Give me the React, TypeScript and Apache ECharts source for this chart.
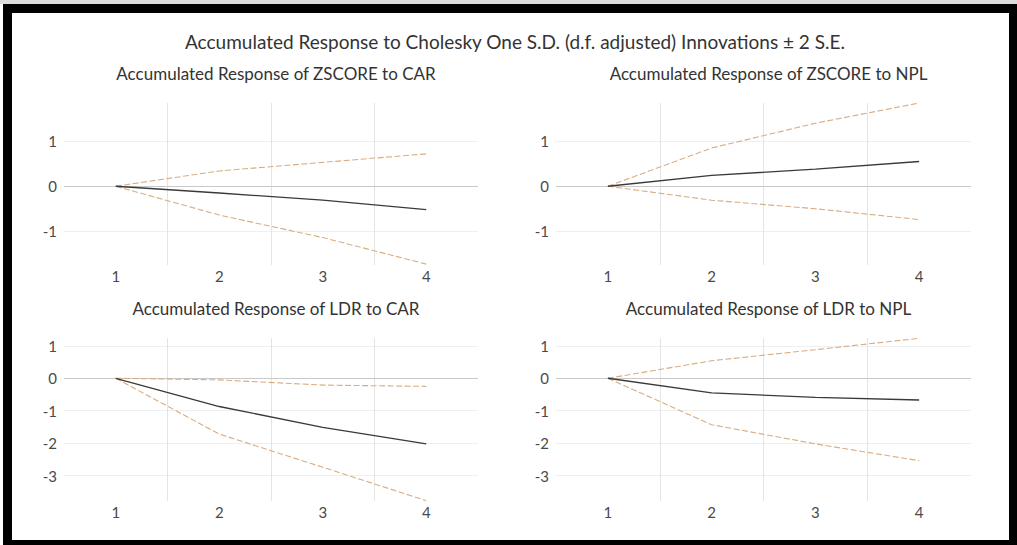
import React, { useEffect, useRef } from "react";
import * as echarts from "echarts";

const categories = ["1", "2", "3", "4"];

const zscoreCarResp = [0, -0.15, -0.31, -0.52];
const zscoreCarUpper = [0, 0.34, 0.53, 0.72];
const zscoreCarLower = [0, -0.64, -1.14, -1.73];

const zscoreNplResp = [0, 0.24, 0.38, 0.55];
const zscoreNplUpper = [0, 0.85, 1.4, 1.85];
const zscoreNplLower = [0, -0.31, -0.5, -0.74];

const ldrCarResp = [0, -0.87, -1.51, -2.02];
const ldrCarUpper = [0, -0.05, -0.21, -0.25];
const ldrCarLower = [0, -1.72, -2.74, -3.77];

const ldrNplResp = [0, -0.45, -0.59, -0.67];
const ldrNplUpper = [0, 0.54, 0.88, 1.23];
const ldrNplLower = [0, -1.43, -2.02, -2.54];

const topRange = [-1.75, 1.85];
const bottomRange = [-3.78, 1.24];

const mainTitle = "Accumulated Response to Cholesky One S.D. (d.f. adjusted) Innovations ± 2 S.E.";
const panelTitles = [
  "Accumulated Response of ZSCORE to CAR",
  "Accumulated Response of ZSCORE to NPL",
  "Accumulated Response of LDR to CAR",
  "Accumulated Response of LDR to NPL",
];

const panels = [
  { resp: zscoreCarResp, upper: zscoreCarUpper, lower: zscoreCarLower, range: topRange },
  { resp: zscoreNplResp, upper: zscoreNplUpper, lower: zscoreNplLower, range: topRange },
  { resp: ldrCarResp, upper: ldrCarUpper, lower: ldrCarLower, range: bottomRange },
  { resp: ldrNplResp, upper: ldrNplUpper, lower: ldrNplLower, range: bottomRange },
];

const FONT = "Lato, 'Open Sans', sans-serif";
const gridBoxes = [
  { left: 64, top: 103, width: 414, height: 162 },
  { left: 556, top: 103, width: 415, height: 162 },
  { left: 64, top: 338, width: 414, height: 163 },
  { left: 556, top: 338, width: 415, height: 163 },
];

export default function App() {
  const ref = useRef<HTMLDivElement>(null);
  useEffect(() => {
    if (!ref.current) return;
    const chart = echarts.init(ref.current, undefined, { renderer: "svg" });
    const grid = gridBoxes.map((g) => ({ ...g, containLabel: false }));
    const xAxis = gridBoxes.map((_, i) => ({
      type: "category",
      gridIndex: i,
      data: categories,
      boundaryGap: true,
      axisLine: { show: false },
      axisTick: { show: false },
      axisLabel: { color: "#4a4a4a", fontSize: 15, fontFamily: FONT, margin: 3 },
      splitLine: {
        show: true,
        showMinLine: false,
        showMaxLine: false,
        lineStyle: { color: "#e4e4e4", width: 1 },
      },
    }));
    const yAxis = panels.map((p, i) => ({
      type: "value",
      gridIndex: i,
      min: p.range[0],
      max: p.range[1],
      minInterval: 1,
      maxInterval: 1,
      axisLine: { show: false },
      axisTick: { show: false },
      axisLabel: {
        color: "#4a4a4a",
        fontSize: 15,
        fontFamily: FONT,
        margin: 7,
        showMinLabel: false,
        showMaxLabel: false,
        formatter: (v: number) => (Math.abs(v - Math.round(v)) < 1e-6 ? String(Math.round(v)) : ""),
      },
      splitLine: {
        show: true,
        showMinLine: false,
        showMaxLine: false,
        lineStyle: { color: "#efefef", width: 1 },
      },
    }));
    const dashStyle = { color: "#d9ad82", width: 1.1, type: [6, 2.5] };
    const series: any[] = [];
    panels.forEach((p, i) => {
      series.push({
        type: "line",
        xAxisIndex: i,
        yAxisIndex: i,
        data: p.upper,
        symbol: "none",
        lineStyle: dashStyle,
        z: 3,
      });
      series.push({
        type: "line",
        xAxisIndex: i,
        yAxisIndex: i,
        data: p.lower,
        symbol: "none",
        lineStyle: dashStyle,
        z: 3,
      });
      series.push({
        type: "line",
        xAxisIndex: i,
        yAxisIndex: i,
        data: p.resp,
        symbol: "none",
        lineStyle: { color: "#3a3a3a", width: 1.3 },
        z: 4,
        markLine: {
          silent: true,
          symbol: "none",
          label: { show: false },
          lineStyle: { color: "#c9c9c9", width: 1, type: "solid" },
          data: [{ yAxis: 0 }],
          z: 1,
        },
      });
    });
    const title = [
      {
        text: mainTitle,
        left: 510,
        top: 27,
        textAlign: "center",
        textStyle: { fontFamily: FONT, fontSize: 19, fontWeight: "normal", color: "#333333" },
      },
      ...panelTitles.map((t, i) => ({
        text: t,
        left: gridBoxes[i].left + gridBoxes[i].width / 2,
        top: i < 2 ? 60 : 295,
        textAlign: "center",
        textStyle: { fontFamily: FONT, fontSize: 17, fontWeight: "normal", color: "#333333" },
      })),
    ];
    chart.setOption({
      animation: false,
      backgroundColor: "#ffffff",
      title,
      grid,
      xAxis,
      yAxis,
      series,
      graphic: [
        { type: "rect", shape: { x: 0, y: 0, width: 1017, height: 4 }, style: { fill: "#dcdcdc" }, z: 0 },
        {
          type: "rect",
          shape: { x: 7.5, y: 8.5, width: 1006, height: 536 },
          style: { fill: "none", stroke: "#000000", lineWidth: 9 },
          z: 10,
        },
      ],
    });
    return () => chart.dispose();
  }, []);
  return <div ref={ref} style={{ position: "fixed", left: 0, top: 0, width: 1017, height: 545 }} />;
}
